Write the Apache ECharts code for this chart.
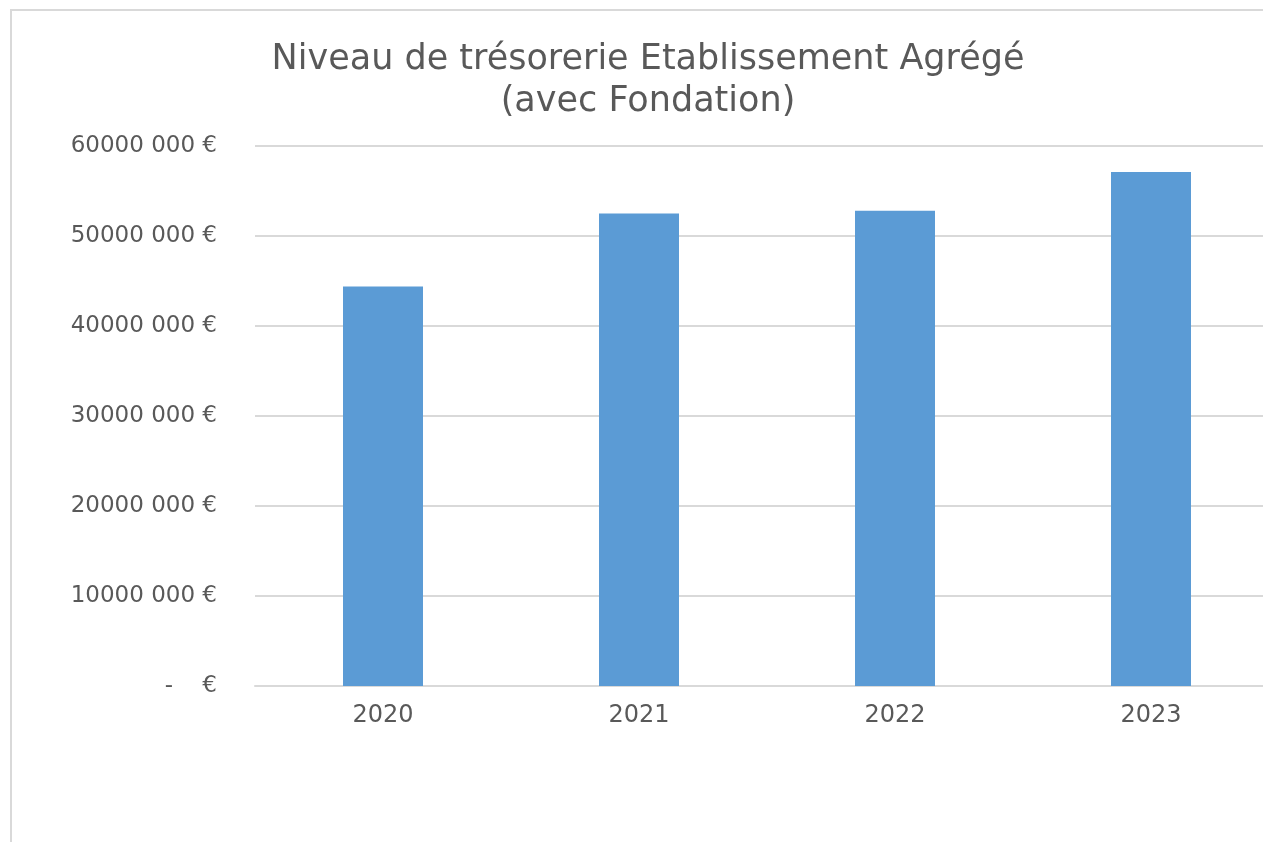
<!DOCTYPE html>
<html>
<head>
<meta charset="utf-8">
<script src="https://cdn.jsdelivr.net/npm/echarts@6/dist/echarts.min.js"></script>
<style>
    html, body { margin: 0; padding: 0; background: #fff; overflow: hidden; }
    #chart { width: 1290px; height: 842px; }
</style>
</head>
<body>
<div id="chart"></div>
<script>
// données
let years = ["2020", "2021", "2022", "2023"];
let tresorerie = [44400000, 52500000, 52800000, 57100000];
let titleLines = ["Niveau de trésorerie Etablissement Agrégé", "(avec Fondation)"];

function formatEuro(val) {
    if (val === 0)
        return "-    €";
    return Math.floor(val / 1000) + " 000 €";
}

let Chart = echarts.init(document.getElementById("chart"));

let option = {
    animation: false,
    backgroundColor: "#ffffff",
    title: {
        text: titleLines.join("\n"),
        left: 643,
        textAlign: "center",
        top: 34,
        textStyle: {
            fontFamily: "DejaVu Sans",
            fontSize: 35,
            fontWeight: "normal",
            color: "#595959",
            lineHeight: 42
        }
    },
    graphic: [{
        type: "rect",
        shape: { x: 11, y: 10, width: 1400, height: 900 },
        style: { fill: "none", stroke: "#d9d9d9", lineWidth: 2 },
        silent: true
    }],
    grid: {
        left: 255,
        top: 146,
        width: 1024,
        height: 540
    },
    xAxis: {
        type: "category",
        data: years,
        axisLine: { lineStyle: { color: "#d9d9d9", width: 2 } },
        axisTick: { show: false },
        axisLabel: {
            margin: 18,
            fontFamily: "DejaVu Sans",
            fontSize: 24,
            color: "#595959"
        }
    },
    yAxis: {
        type: "value",
        min: 0,
        max: 60000000,
        interval: 10000000,
        axisLine: { show: false },
        axisTick: { show: false },
        splitLine: { lineStyle: { color: "#d9d9d9", width: 2 } },
        axisLabel: {
            margin: 38,
            fontFamily: "DejaVu Sans",
            fontSize: 23,
            color: "#595959",
            formatter: formatEuro
        }
    },
    series: [{
        type: "bar",
        data: tresorerie,
        barWidth: 80,
        itemStyle: { color: "#5b9bd5" }
    }]
};

Chart.setOption(option);
</script>
</body>
</html>
